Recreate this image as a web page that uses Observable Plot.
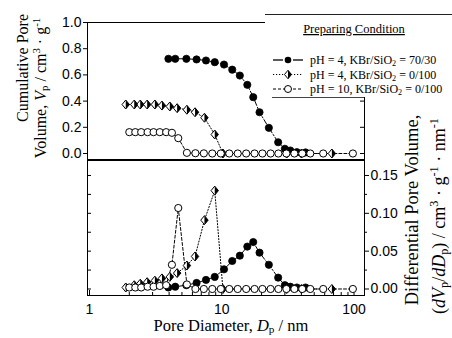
<!DOCTYPE html>
<html><head><meta charset="utf-8">
<script src="https://cdn.jsdelivr.net/npm/d3@7"></script>
<script src="https://cdn.jsdelivr.net/npm/@observablehq/plot@0.6"></script>
<style>
body{margin:0;background:#fff;}
#chart{width:452px;height:338px;overflow:hidden;background:#fff;}
</style></head><body><div id="chart"></div>
<script>
// ---- data ----
// Series A: pH = 4, KBr/SiO2 = 70/30 (filled circles)
const aD    = [3.95, 4.45, 5.4, 6.45, 7.6, 8.85, 10.4, 12.0, 13.7, 15.6, 17.3, 19.3, 22.7, 26.7, 30.0, 33.0, 37.0, 43.0];
const aCum  = [0.723, 0.723, 0.723, 0.718, 0.710, 0.697, 0.679, 0.640, 0.595, 0.524, 0.430, 0.315, 0.196, 0.086, 0.036, 0.023, 0.010, 0.008];
const aDiff = [0.002, 0.003, 0.005, 0.008, 0.012, 0.016, 0.026, 0.037, 0.044, 0.056, 0.062, 0.048, 0.032, 0.015, 0.005, 0.003, 0.002, 0.002];
// Series B: pH = 4, KBr/SiO2 = 0/100 (half-filled diamonds)
const bD    = [1.88, 2.18, 2.42, 2.73, 3.12, 3.53, 4.05, 4.6, 5.45, 6.28, 7.4, 8.85, 10.2, 31, 40, 68];
const bCum  = [0.374, 0.374, 0.374, 0.374, 0.374, 0.366, 0.359, 0.346, 0.334, 0.315, 0.273, 0.145, 0, 0, 0, 0];
const bDiff = [0.002, 0.005, 0.007, 0.009, 0.011, 0.014, 0.016, 0.021, 0.031, 0.043, 0.091, 0.130, 0, 0, 0, 0];
// Series C: pH = 10, KBr/SiO2 = 0/100 (open circles)
const cD    = [2.0, 2.22, 2.46, 2.75, 3.05, 3.4, 3.8, 4.2, 4.69, 5.45, 6.32, 7.32, 8.48, 9.83, 11.4, 13.2, 15.3, 17.7, 20.3, 23.4, 26.8, 30.8, 35.4, 40.6, 46.7, 58.5, 98];
const cCum  = [0.163, 0.163, 0.163, 0.163, 0.163, 0.163, 0.163, 0.158, 0.117, 0.005, 0.002, 0.001, 0, 0, 0, 0, 0, 0, 0, 0, 0, 0, 0, 0, 0, 0, 0];
const cDiff = [0.002, 0.002, 0.002, 0.003, 0.003, 0.004, 0.005, 0.032, 0.107, 0.006, 0, 0, 0, 0, 0, 0, 0, 0, 0, 0, 0, 0, 0, 0, 0, 0, 0];

const xTicks = [1, 10, 100];
const xMinor = [2, 3, 4, 5, 6, 7, 8, 9, 20, 30, 40, 50, 60, 70, 80, 90];
const yTopTicks = [0, 0.2, 0.4, 0.6, 0.8, 1.0];
const yBotTicks = [0, 0.05, 0.10, 0.15];
const yBotMinor = [0.025, 0.075, 0.125];
const legendLabels = [
  ["pH = 4, KBr/SiO", "2", " = 70/30"],
  ["pH = 4, KBr/SiO", "2", " = 0/100"],
  ["pH = 10, KBr/SiO", "2", " = 0/100"]
];

// ---- symbols ----
const diamondOpen = {draw(ctx, size){ const r = Math.sqrt(size/Math.PI), w = r*0.95, h = r*1.15;
  ctx.moveTo(0,-h); ctx.lineTo(w,0); ctx.lineTo(0,h); ctx.lineTo(-w,0); ctx.closePath(); }};
const diamondHalf = {draw(ctx, size){ const r = Math.sqrt(size/Math.PI), w = r*0.95, h = r*1.15;
  ctx.moveTo(0,-h); ctx.lineTo(w,0); ctx.lineTo(0,h); ctx.closePath(); }};

const rows = (D, v) => D.map((d, i) => ({D: d, v: v[i]}));
const dashA = "5,2,1.5,2", dashB = "1.2,1.8", dashC = "3,2";

function dataMarks(a, b, c){
  const A = rows(aD, a), B = rows(bD, b), C = rows(cD, c);
  return [
    Plot.line(A, {x:"D", y:"v", stroke:"black", strokeWidth:1, strokeDasharray:dashA}),
    Plot.line(B, {x:"D", y:"v", stroke:"black", strokeWidth:1, strokeDasharray:dashB}),
    Plot.line(C, {x:"D", y:"v", stroke:"black", strokeWidth:1, strokeDasharray:dashC}),
    Plot.dot(A, {x:"D", y:"v", r:3.6, fill:"black", stroke:"black", strokeWidth:0.8}),
    Plot.dot(B, {x:"D", y:"v", r:3.9, symbol:diamondOpen, fill:"white", stroke:"black", strokeWidth:1}),
    Plot.dot(B, {x:"D", y:"v", r:3.9, symbol:diamondHalf, fill:"black"}),
    Plot.dot(C, {x:"D", y:"v", r:3.6, fill:"white", stroke:"black", strokeWidth:1})
  ];
}

const W = 452, ML = 87, MR = 88;
const xScale = {type:"log", domain:[0.966, 120], label:null};
const baseStyle = {fontFamily:"'Liberation Sans', Arial, sans-serif", fontSize:"14px", background:"transparent", color:"black", overflow:"visible"};

const topPlot = Plot.plot({
  width:W, height:160, marginLeft:ML, marginRight:MR, marginTop:22, marginBottom:1,
  x:{...xScale, axis:null},
  y:{domain:[-0.0458, 1.0], label:null},
  style:baseStyle,
  marks:[
    Plot.frame({stroke:"black"}),
    Plot.axisY({anchor:"left", ticks:yTopTicks, tickFormat:d3.format(".1f"), tickSize:4, tickPadding:2, label:null}),
    Plot.tickY(yTopTicks, {y:d=>d, insetLeft:273, stroke:"black"}),
    ...dataMarks(aCum, bCum, cCum)
  ]
});

const botPlot = Plot.plot({
  width:W, height:179, marginLeft:ML, marginRight:MR, marginTop:1, marginBottom:43,
  x:xScale,
  y:{domain:[-0.0086, 0.1698], label:null},
  style:baseStyle,
  marks:[
    Plot.frame({stroke:"black"}),
    Plot.axisX({ticks:xTicks, tickFormat:d=>String(d), tickSize:0, tickPadding:9, label:null}),
    Plot.tickX(xTicks, {x:d=>d, insetTop:130, stroke:"black"}),
    Plot.tickX(xMinor, {x:d=>d, insetTop:132, stroke:"black"}),
    Plot.tickY([...yBotTicks, ...yBotMinor], {y:d=>d, insetRight:273, stroke:"black"}),
    Plot.axisY({anchor:"right", ticks:yBotTicks, tickFormat:d3.format(".2f"), tickSize:4, tickPadding:2, label:null}),
    Plot.axisY({anchor:"right", ticks:yBotMinor, tickFormat:()=>"", tickSize:2, label:null}),
    ...dataMarks(aDiff, bDiff, cDiff)
  ]
});

// fix nested sizing (Plot's CSS height:auto would stretch nested svgs)
for (const [node, h] of [[topPlot, 160], [botPlot, 179]]) {
  node.style.width = W + "px";
  node.style.height = h + "px";
  node.style.maxWidth = "none";
}

// ---- assemble ----
const svg = d3.create("svg").attr("width", W).attr("height", 338).attr("viewBox", "0 0 452 338")
  .style("display","block").style("background","white");
svg.append(() => topPlot).attr("x", 0).attr("y", 0);
svg.append(() => botPlot).attr("x", 0).attr("y", 159);

const serif = "'Liberation Serif', 'Times New Roman', serif";
function addText(x, y, rot, size, parts, anchor="middle"){
  const t = svg.append("text")
    .attr("transform", `translate(${x},${y}) rotate(${rot})`)
    .attr("text-anchor", anchor).attr("font-family", serif)
    .attr("font-size", size).attr("fill", "black");
  parts.forEach(p => {
    const s = typeof p === "string" ? {t:p} : p;
    const ts = t.append("tspan").text(s.t);
    if (s.i) ts.attr("font-style", "italic");
    if (s.sub) ts.attr("baseline-shift", "-22%").attr("font-size", size*0.68);
    if (s.sup) ts.attr("baseline-shift", "super").attr("font-size", size*0.68);
  });
  return t;
}

// axis titles
addText(231, 331, 0, 16.5, ["Pore Diameter, ", {t:"D", i:true}, {t:"p", sub:true}, " / nm"]);
addText(28, 68, -90, 16, ["Cumulative Pore"]);
addText(46, 88, -90, 16, ["Volume, ", {t:"V", i:true}, {t:"p", sub:true}, " / cm", {t:"3", sup:true}, " · g", {t:"-1", sup:true}]);
addText(418, 210, -90, 18.5, ["Differential Pore Volume,"]);
addText(445, 216, -90, 18, ["(", {t:"dV", i:true}, {t:"p", sub:true}, "/", {t:"dD", i:true}, {t:"p", sub:true}, ") / cm", {t:"3", sup:true}, " · g", {t:"-1", sup:true}, " · nm", {t:"-1", sup:true}]);

// legend box
svg.append("rect").attr("x", 265).attr("y", 14).attr("width", 190).attr("height", 83).attr("fill", "white");
svg.append("line").attr("x1", 265).attr("x2", 452).attr("y1", 14.5).attr("y2", 14.5).attr("stroke", "#222").attr("stroke-width", 1);
svg.append("line").attr("x1", 272).attr("x2", 364).attr("y1", 97.5).attr("y2", 97.5).attr("stroke", "#444").attr("stroke-width", 1);
svg.append("line").attr("x1", 364.5).attr("x2", 364.5).attr("y1", 97).attr("y2", 104).attr("stroke", "black");
addText(354, 33, 0, 12.5, ["Preparing Condition"]).attr("text-decoration", "underline");

const legY = [60, 74.5, 89];
const legDash = ["none", "1.2,1.8", "3,2"];
legY.forEach((y, i) => {
  const g = svg.append("g");
  if (i === 0) {
    g.append("line").attr("x1", 273).attr("x2", 283).attr("y1", y).attr("y2", y).attr("stroke", "black").attr("stroke-width", 1.3);
    g.append("line").attr("x1", 293).attr("x2", 303).attr("y1", y).attr("y2", y).attr("stroke", "black").attr("stroke-width", 1.3);
  } else {
    g.append("line").attr("x1", 273).attr("x2", 303).attr("y1", y).attr("y2", y).attr("stroke", "black").attr("stroke-dasharray", legDash[i]);
  }
  const sz = Math.PI * 3.7 * 3.7;
  if (i === 0) {
    g.append("path").attr("transform", `translate(288,${y})`).attr("d", d3.symbol(d3.symbolCircle, Math.PI*3.3*3.3)()).attr("fill", "black");
  } else if (i === 1) {
    g.append("path").attr("transform", `translate(288,${y})`).attr("d", d3.symbol(diamondOpen, sz)()).attr("fill", "white").attr("stroke", "black");
    g.append("path").attr("transform", `translate(288,${y})`).attr("d", d3.symbol(diamondHalf, sz)()).attr("fill", "black");
  } else {
    g.append("path").attr("transform", `translate(288,${y})`).attr("d", d3.symbol(d3.symbolCircle, Math.PI*3.5*3.5)()).attr("fill", "white").attr("stroke", "black");
  }
  const p = legendLabels[i];
  addText(310, y + 4, 0, 12, [p[0], {t:p[1], sub:true}, p[2]], "start");
});

document.getElementById("chart").appendChild(svg.node());
</script></body></html>
